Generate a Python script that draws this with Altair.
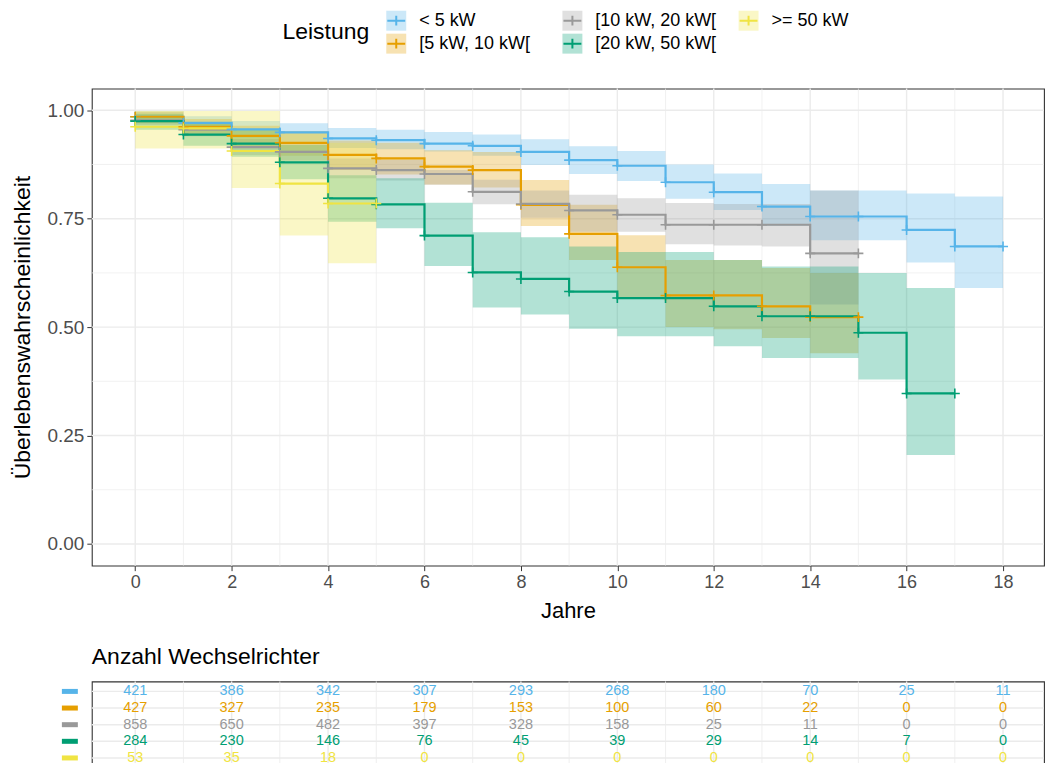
import altair as alt
import pandas as pd

# ---------------- data ----------------
groups = ["< 5 kW", "[5 kW, 10 kW[", "[10 kW, 20 kW[", "[20 kW, 50 kW[", ">= 50 kW"]
colors = ["#56B4E9", "#E69F00", "#999999", "#009E73", "#F0E442"]

# survival estimate per yearly interval [t, t+1)
surv_lt5 = [0.985, 0.971, 0.956, 0.949, 0.935, 0.931, 0.923, 0.918, 0.904, 0.885,
            0.872, 0.834, 0.811, 0.778, 0.755, 0.755, 0.724, 0.686]
low_lt5 = [0.970, 0.955, 0.937, 0.927, 0.913, 0.910, 0.905, 0.895, 0.874, 0.853,
           0.837, 0.796, 0.770, 0.733, 0.700, 0.700, 0.649, 0.590]
up_lt5 = [0.997, 0.986, 0.975, 0.970, 0.959, 0.955, 0.950, 0.944, 0.933, 0.917,
          0.906, 0.875, 0.854, 0.830, 0.815, 0.815, 0.808, 0.801]

surv_5_10 = [0.985, 0.962, 0.941, 0.925, 0.897, 0.889, 0.870, 0.862, 0.782, 0.715,
             0.638, 0.573, 0.573, 0.548, 0.523]
low_5_10 = [0.970, 0.942, 0.915, 0.895, 0.862, 0.852, 0.829, 0.822, 0.733, 0.655,
            0.567, 0.500, 0.495, 0.475, 0.440]
up_5_10 = [0.997, 0.980, 0.964, 0.952, 0.930, 0.925, 0.908, 0.904, 0.839, 0.782,
           0.712, 0.655, 0.655, 0.636, 0.625]

surv_10_20 = [0.977, 0.955, 0.915, 0.904, 0.866, 0.862, 0.853, 0.812, 0.784, 0.769,
              0.759, 0.736, 0.736, 0.736, 0.670]
low_10_20 = [0.966, 0.940, 0.897, 0.884, 0.843, 0.838, 0.828, 0.783, 0.752, 0.720,
             0.720, 0.691, 0.688, 0.686, 0.552]
up_10_20 = [0.988, 0.970, 0.934, 0.924, 0.889, 0.886, 0.862, 0.840, 0.815, 0.805,
            0.797, 0.786, 0.784, 0.784, 0.815]

surv_20_50 = [0.975, 0.944, 0.923, 0.880, 0.797, 0.783, 0.711, 0.626, 0.611, 0.582,
              0.567, 0.567, 0.548, 0.525, 0.525, 0.487, 0.347]
low_20_50 = [0.955, 0.918, 0.893, 0.841, 0.743, 0.728, 0.641, 0.545, 0.529, 0.496,
             0.479, 0.479, 0.456, 0.429, 0.429, 0.379, 0.205]
up_20_50 = [0.992, 0.970, 0.955, 0.920, 0.850, 0.843, 0.787, 0.719, 0.707, 0.686,
            0.673, 0.673, 0.655, 0.640, 0.640, 0.625, 0.590]

surv_ge50 = [0.962, 0.958, 0.906, 0.831, 0.785]
low_ge50 = [0.912, 0.912, 0.821, 0.711, 0.647]
up_ge50 = [0.998, 0.998, 0.998, 0.950, 0.925]

surv = dict(zip(groups, [surv_lt5, surv_5_10, surv_10_20, surv_20_50, surv_ge50]))
lower = dict(zip(groups, [low_lt5, low_5_10, low_10_20, low_20_50, low_ge50]))
upper = dict(zip(groups, [up_lt5, up_5_10, up_10_20, up_20_50, up_ge50]))

# numbers at risk
count_years = [0, 2, 4, 6, 8, 10, 12, 14, 16, 18]
n_lt5 = [421, 386, 342, 307, 293, 268, 180, 70, 25, 11]
n_5_10 = [427, 327, 235, 179, 153, 100, 60, 22, 0, 0]
n_10_20 = [858, 650, 482, 397, 328, 158, 25, 11, 0, 0]
n_20_50 = [284, 230, 146, 76, 45, 39, 29, 14, 7, 0]
n_ge50 = [53, 35, 18, 0, 0, 0, 0, 0, 0, 0]
counts = dict(zip(groups, [n_lt5, n_5_10, n_10_20, n_20_50, n_ge50]))

x_major = [0, 2, 4, 6, 8, 10, 12, 14, 16, 18]
x_minor = [1, 3, 5, 7, 9, 11, 13, 15, 17]
y_major = [0.0, 0.25, 0.5, 0.75, 1.0]
y_minor = [0.125, 0.375, 0.625, 0.875]

# ---------------- tables ----------------
rows = []
for g in groups:
    s, lo, up = surv[g], lower[g], upper[g]
    n = len(s)
    for t in range(n + 1):
        k = min(t, n - 1)
        rows.append(dict(group=g, t=t, s=s[k], lo=lo[k], up=up[k]))
df = pd.DataFrame(rows)

tab = []
for i, g in enumerate(groups):
    for yr, c in zip(count_years, counts[g]):
        tab.append(dict(group=g, row=i, year=yr, n=c))
df_tab = pd.DataFrame(tab)
df_rows = pd.DataFrame({"group": groups, "row": list(range(len(groups)))})

leg = pd.DataFrame({"group": groups,
                    "col": [i // 2 for i in range(len(groups))],
                    "r": [i % 2 for i in range(len(groups))]})

FONT = "Liberation Sans"
GRID = "#EBEBEB"
color_scale = alt.Scale(domain=groups, range=colors)
color = alt.Color("group:N", scale=color_scale, legend=None)
PLUS = "M-1,0L1,0M0,-1L0,1"

W = 954
x_scale = alt.Scale(domain=[-0.9, 18.85], nice=False, zero=False)
y_scale = alt.Scale(domain=[-0.05, 1.05], nice=False, zero=False)

x_axis = alt.Axis(values=x_major, grid=False, domain=False, tickColor="#333333",
                  tickSize=5, labelColor="#4D4D4D", labelFontSize=18, labelPadding=3,
                  title="Jahre", titleFontSize=22, titleFontWeight="normal",
                  titleColor="black", titlePadding=9)
y_axis = alt.Axis(values=y_major, format=".2f", grid=False, domain=False,
                  tickColor="#333333", tickSize=5, labelColor="#4D4D4D",
                  labelFontSize=19, labelPadding=3,
                  title="Überlebenswahrscheinlichkeit", titleFontSize=23,
                  titleFontWeight="normal", titleColor="black", titlePadding=12)

# ---------------- legend (manual) ----------------
lx = alt.X("col:Q", scale=alt.Scale(domain=[0, 2], range=[305, 658]), axis=None)
ly = alt.Y("r:Q", scale=alt.Scale(domain=[0, 1], range=[19, 42]), axis=None)
leg_base = alt.Chart(leg)
leg_sq = leg_base.mark_point(shape="square", filled=True, size=400, opacity=0.3).encode(
    x=lx, y=ly, color=color)
leg_plus = leg_base.mark_point(shape="M-1,0L1,0M0,-0.55L0,0.55", filled=False,
                               size=320, strokeWidth=2, opacity=1).encode(
    x=lx, y=ly, color=color)
leg_txt = leg_base.mark_text(align="left", baseline="middle", dx=23, fontSize=18,
                             font=FONT, color="black").encode(
    x=lx, y=ly, text="group:N")
leg_title = alt.Chart(pd.DataFrame({"t": ["Leistung"]})).mark_text(
    align="left", baseline="middle", fontSize=23, font=FONT, color="black").encode(
    x=alt.value(191), y=alt.value(30.5), text="t:N")
legend_chart = alt.layer(leg_sq, leg_plus, leg_txt, leg_title).properties(
    width=W, height=62, view=alt.ViewBackground(stroke="transparent"))

# ---------------- main plot ----------------
def hrules_main(vals, width):
    return alt.Chart(pd.DataFrame({"s": vals})).mark_rule(
        color=GRID, strokeWidth=width).encode(
        y=alt.Y("s:Q", scale=y_scale, axis=y_axis))

g_xminor = alt.Chart(pd.DataFrame({"t": x_minor})).mark_rule(color=GRID, strokeWidth=0.7).encode(
    x=alt.X("t:Q", scale=x_scale, axis=x_axis))
g_xmajor = alt.Chart(pd.DataFrame({"t": x_major})).mark_rule(color=GRID, strokeWidth=1.4).encode(
    x=alt.X("t:Q", scale=x_scale, axis=x_axis))
g_yminor = hrules_main(y_minor, 0.7)
g_ymajor = hrules_main(y_major, 1.4)

base = alt.Chart(df)
bands = base.mark_area(interpolate="step-after", opacity=0.3).encode(
    x=alt.X("t:Q", scale=x_scale, axis=x_axis),
    y=alt.Y("lo:Q", scale=y_scale, axis=y_axis),
    y2="up:Q",
    color=color)
lines = base.mark_line(interpolate="step-after", strokeWidth=2.2).encode(
    x=alt.X("t:Q", scale=x_scale, axis=x_axis),
    y=alt.Y("s:Q", scale=y_scale, axis=y_axis),
    color=color)
pts = base.mark_point(shape=PLUS, filled=False, size=100, strokeWidth=1.6, opacity=1).encode(
    x=alt.X("t:Q", scale=x_scale, axis=x_axis),
    y=alt.Y("s:Q", scale=y_scale, axis=y_axis),
    color=color)

main_chart = alt.layer(g_xminor, g_xmajor, g_yminor, g_ymajor, bands, lines, pts).properties(
    width=W, height=478)

# ---------------- risk table ----------------
tx_scale = alt.Scale(domain=[-0.9, 18.85], nice=False, zero=False)
ty_scale = alt.Scale(domain=[-0.6, 4.44], nice=False, zero=False, reverse=True)

t_xminor = alt.Chart(pd.DataFrame({"t": x_minor})).mark_rule(color=GRID, strokeWidth=0.8).encode(
    x=alt.X("t:Q", scale=tx_scale, axis=None))
t_xmajor = alt.Chart(pd.DataFrame({"t": x_major})).mark_rule(color=GRID, strokeWidth=1.4).encode(
    x=alt.X("t:Q", scale=tx_scale, axis=None))
t_h = alt.Chart(df_rows).mark_rule(color=GRID, strokeWidth=1.4).encode(
    y=alt.Y("row:Q", scale=ty_scale, axis=None))
t_txt = alt.Chart(df_tab).mark_text(fontSize=14.5, font=FONT, baseline="middle").encode(
    x=alt.X("year:Q", scale=tx_scale, axis=None),
    y=alt.Y("row:Q", scale=ty_scale, axis=None),
    text="n:Q",
    color=color)
t_dash = alt.Chart(df_rows).mark_rule(strokeWidth=5).encode(
    x=alt.value(-30), x2=alt.value(-14),
    y=alt.Y("row:Q", scale=ty_scale, axis=None),
    color=color)

table_chart = alt.layer(t_xminor, t_xmajor, t_h, t_txt, t_dash).properties(
    width=W, height=84,
    title=alt.TitleParams("Anzahl Wechselrichter", anchor="start", frame="group",
                          fontSize=23, fontWeight="normal", font=FONT,
                          color="black", offset=12))

chart = alt.vconcat(legend_chart, main_chart, table_chart, spacing=22).resolve_scale(
    x="independent", y="independent"
).properties(
    padding={"left": 11, "top": 0, "right": 0, "bottom": 0}
).configure(font=FONT).configure_view(stroke="#333333", strokeWidth=1.1)

chart.save("out.html", embed_options={"renderer": "svg", "actions": False})
